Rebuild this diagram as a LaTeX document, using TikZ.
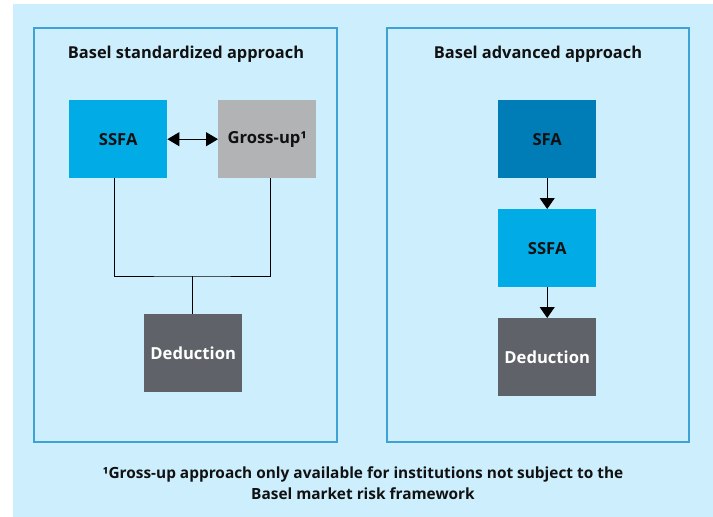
\documentclass[tikz,border=0pt]{standalone}
\usepackage{fontspec}
\setmainfont{Open Sans}
\usetikzlibrary{arrows.meta}
\definecolor{bgblue}{HTML}{CCEEFD}
\definecolor{frameblue}{HTML}{3FA2D4}
\definecolor{ssfablue}{HTML}{00ABE6}
\definecolor{sfablue}{HTML}{007CB6}
\definecolor{grossgray}{HTML}{B1B3B4}
\definecolor{dedgray}{HTML}{5F6369}
\definecolor{txt}{HTML}{111111}
\tikzset{
  blk/.style={draw=none, minimum width=98pt, minimum height=78pt, inner sep=0pt, font=\fontsize{16.6}{19}\selectfont\bfseries, anchor=north west},
  panel/.style={draw=frameblue, line width=1.2pt, fill=none},
  conn/.style={draw=black, line width=1pt},
  tip/.style={-{Triangle[width=15pt,length=11pt]}},
}
\begin{document}
\begin{tikzpicture}[x=1pt,y=-1pt]
\useasboundingbox (0,0) rectangle (713,517);
\fill[white] (0,0) rectangle (713,517);
\fill[bgblue] (13,4) rectangle (713,517);
\draw[panel] (34,28) rectangle (337,442);
\draw[panel] (387,28) rectangle (689,442);
\node[font=\fontsize{16.4}{19}\selectfont\bfseries, text=txt] (t1) at (186,54) {Basel standardized approach};
\node[font=\fontsize{16.4}{19}\selectfont\bfseries, text=txt] (t2) at (538,54) {Basel advanced approach};
% left
\node[blk, fill=ssfablue, text=txt] (ssfa1) at (69,100) {SSFA};
\node[blk, fill=grossgray, text=txt] (gross) at (218,100) {Gross-up¹};
\node[blk, fill=dedgray, text=white] (ded1) at (144,314) {Deduction};
\coordinate (j) at (192,276);
\draw[conn, {Triangle[width=14pt,length=12pt]}-{Triangle[width=14pt,length=12pt]}] (ssfa1.east) -- (gross.west);
\draw[conn] ([xshift=-4pt]ssfa1.south) |- (j) -| ([xshift=3pt]gross.south);
\draw[conn] (j) -- (ded1.north -| j);
% right
\node[blk, fill=sfablue, text=txt] (sfa) at (498,100) {SFA};
\node[blk, fill=ssfablue, text=txt] (ssfa2) at (498,209) {SSFA};
\node[blk, fill=dedgray, text=white] (ded2) at (498,318) {Deduction};
\draw[conn, tip] (sfa.south) -- (ssfa2.north);
\draw[conn, tip] (ssfa2.south) -- (ded2.north);
% footnote
\node[font=\fontsize{15.4}{21}\selectfont\bfseries, text=txt, align=center] (fn) at (363,483.5) {¹Gross-up approach only available for institutions not subject to the\\Basel market risk framework};
\end{tikzpicture}
\end{document}
